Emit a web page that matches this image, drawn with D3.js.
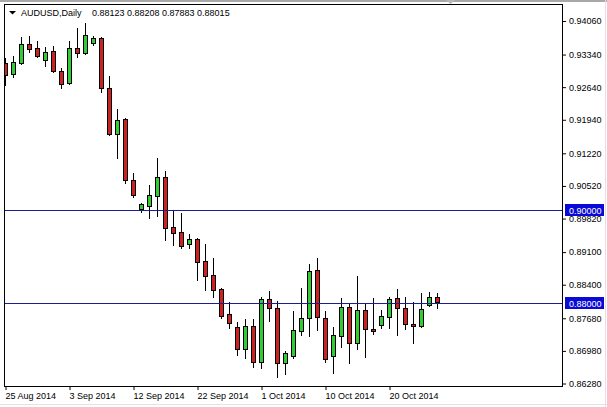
<!DOCTYPE html>
<html>
<head>
<meta charset="utf-8">
<script src="https://cdn.jsdelivr.net/npm/d3@7"></script>
<style>
body { margin: 0; background: #fff; }
svg { display: block; font-family: "Liberation Sans", Arial, sans-serif; font-size: 9px; }
</style>
</head>
<body>
<svg class="candle-chart" width="607" height="407"></svg>
<script>
var symbol = "AUDUSD,Daily";
var lastQuote = "0.88123 0.88208 0.87883 0.88015";

// daily bars (broker also prints sunday bars)
var dates = [
  "2014-08-25","2014-08-26","2014-08-27","2014-08-28","2014-08-29","2014-08-31",
  "2014-09-01","2014-09-02","2014-09-03","2014-09-04","2014-09-05","2014-09-07",
  "2014-09-08","2014-09-09","2014-09-10","2014-09-11","2014-09-12","2014-09-14",
  "2014-09-15","2014-09-16","2014-09-17","2014-09-18","2014-09-19","2014-09-21",
  "2014-09-22","2014-09-23","2014-09-24","2014-09-25","2014-09-26","2014-09-28",
  "2014-09-29","2014-09-30","2014-10-01","2014-10-02","2014-10-03","2014-10-05",
  "2014-10-06","2014-10-07","2014-10-08","2014-10-09","2014-10-10","2014-10-12",
  "2014-10-13","2014-10-14","2014-10-15","2014-10-16","2014-10-17","2014-10-19",
  "2014-10-20","2014-10-21","2014-10-22","2014-10-23","2014-10-24","2014-10-26",
  "2014-10-27"
];
var opens = [
  0.93148,0.92912,0.93148,0.93556,0.93470,0.93212,0.93405,0.92976,0.92719,0.93470,
  0.93363,0.93577,0.93684,0.92611,0.91624,0.91946,0.90637,0.90014,0.90079,0.90293,
  0.90701,0.89628,0.89521,0.89263,0.89371,0.88898,0.88598,0.88298,0.87761,0.87482,
  0.87010,0.87503,0.86731,0.88083,0.87890,0.86709,0.86860,0.87396,0.87675,0.88705,
  0.87675,0.86860,0.87289,0.87911,0.87139,0.87847,0.87439,0.87525,0.87697,0.88104,
  0.87890,0.87546,0.87503,0.87954,0.88123
];
var highs = [
  0.93255,0.93298,0.93706,0.93727,0.93620,0.93491,0.93513,0.93041,0.93620,0.93899,
  0.94006,0.93727,0.93706,0.92869,0.92161,0.91967,0.90787,0.90143,0.90530,0.91109,
  0.90830,0.89972,0.89929,0.89478,0.89392,0.89263,0.88963,0.88319,0.88019,0.87589,
  0.87654,0.87654,0.88126,0.88255,0.88040,0.86967,0.87825,0.88319,0.88834,0.88963,
  0.87825,0.87482,0.88104,0.87997,0.88577,0.87997,0.88104,0.87847,0.88126,0.88298,
  0.88126,0.88019,0.88212,0.88233,0.88208
];
var lows = [
  0.92676,0.92847,0.93126,0.93384,0.93277,0.93084,0.92955,0.92611,0.92697,0.93277,
  0.93341,0.93534,0.92525,0.91603,0.91109,0.90572,0.90272,0.89950,0.89821,0.89864,
  0.89349,0.89242,0.89177,0.89177,0.88491,0.88276,0.88126,0.87675,0.87461,0.86881,
  0.86817,0.86623,0.86602,0.87611,0.86409,0.86473,0.86817,0.87310,0.87289,0.87418,
  0.86731,0.86495,0.87053,0.86709,0.87010,0.86838,0.87332,0.87461,0.87461,0.87310,
  0.87439,0.87139,0.87482,0.87933,0.87883
];
var closes = [
  0.92890,0.93169,0.93556,0.93448,0.93298,0.93384,0.92976,0.92697,0.93470,0.93363,
  0.93749,0.93684,0.92611,0.91624,0.91925,0.90637,0.90315,0.90122,0.90315,0.90701,
  0.89607,0.89499,0.89220,0.89371,0.88877,0.88577,0.88276,0.87718,0.87568,0.87010,
  0.87503,0.86731,0.88083,0.87890,0.86709,0.86924,0.87418,0.87675,0.88684,0.87697,
  0.86795,0.87310,0.87911,0.87139,0.87847,0.87439,0.87396,0.87718,0.88083,0.87890,
  0.87546,0.87503,0.87868,0.88126,0.88015
];

var priceTicks = [0.94060,0.93340,0.92640,0.91940,0.91220,0.90520,0.89820,0.89100,0.88400,0.87680,0.86980,0.86280];
var dateTicks = ["2014-08-25","2014-09-03","2014-09-12","2014-09-22","2014-10-01","2014-10-10","2014-10-20"];
var levels = [0.90000, 0.88000];

var upColor = "#33cc33", downColor = "#cc2222", levelColor = "#1c1c96";

var svg = d3.select(".candle-chart"),
frame = {left: 4, top: 4, right: 562, bottom: 386};

svg.append("rect").attr("width", 607).attr("height", 407).attr("fill", "#fff");
// window chrome bits
svg.append("rect").attr("x", 0).attr("y", 0).attr("width", 607).attr("height", 2).attr("fill", "#a8a8a8");
svg.append("line").attr("x1", 0).attr("x2", 607).attr("y1", 404.5).attr("y2", 404.5).attr("stroke", "#e2e2e2");
svg.append("line").attr("x1", 605.5).attr("x2", 605.5).attr("y1", 0).attr("y2", 407).attr("stroke", "#e2e2e2");
svg.append("path").attr("d", "M446,0L455,0L450.5,4Z").attr("fill", "#b8b8b8");

var x = d3.scalePoint()
.domain(dates)
.range([5, 437]);

var y = d3.scaleLinear()
.domain([0.86280, 0.94060])
.range([383, 20.5]);

var candles = dates.map(function(d, i) {
   return {date: d, open: opens[i], high: highs[i], low: lows[i], close: closes[i]};
});

svg.append("clipPath").attr("id", "plot-clip")
.append("rect")
.attr("x", frame.left + 1).attr("y", frame.top + 1)
.attr("width", frame.right - frame.left - 1).attr("height", frame.bottom - frame.top - 1);

var g = svg.append("g").attr("clip-path", "url(#plot-clip)");

// wicks
g.selectAll(".wick")
.data(candles)
.enter().append("line")
.attr("class", "wick")
.attr("x1", function(d) { return Math.round(x(d.date)) + 0.5; })
.attr("x2", function(d) { return Math.round(x(d.date)) + 0.5; })
.attr("y1", function(d) { return Math.round(y(d.high)); })
.attr("y2", function(d) { return Math.round(y(d.low)) + 1; })
.attr("stroke", "#000");

// bodies
g.selectAll(".body")
.data(candles)
.enter().append("rect")
.attr("class", "body")
.attr("x", function(d) { return Math.round(x(d.date)) - 2 + 0.5; })
.attr("y", function(d) { return Math.round(y(Math.max(d.open, d.close))) + 0.5; })
.attr("width", 4)
.attr("height", function(d) {
   return Math.max(1, Math.round(y(Math.min(d.open, d.close))) - Math.round(y(Math.max(d.open, d.close))));
})
.attr("fill", function(d) { return d.close >= d.open ? upColor : downColor; })
.attr("stroke", "#000");

// horizontal levels
g.selectAll(".level")
.data(levels)
.enter().append("line")
.attr("class", "level")
.attr("x1", frame.left).attr("x2", frame.right)
.attr("y1", function(d) { return Math.round(y(d)) + 0.5; })
.attr("y2", function(d) { return Math.round(y(d)) + 0.5; })
.attr("stroke", levelColor);

// frame
svg.append("rect")
.attr("x", frame.left + 0.5).attr("y", frame.top + 0.5)
.attr("width", frame.right - frame.left).attr("height", frame.bottom - frame.top)
.attr("fill", "none").attr("stroke", "#000");

// price axis
var yAxis = svg.append("g")
.attr("class", "axis axis--y")
.attr("transform", "translate(" + (frame.right + 1) + ",0.5)")
.call(d3.axisRight(y).tickValues(priceTicks).tickFormat(d3.format(".5f")).tickSize(3).tickPadding(3));
yAxis.select(".domain").remove();
yAxis.selectAll("text").attr("font-family", "Liberation Sans, Arial, sans-serif").attr("font-size", 9).attr("fill", "#000");

// date axis
var parseDay = d3.timeParse("%Y-%m-%d"), fmtDay = d3.timeFormat("%-d %b %Y");
var xAxis = svg.append("g")
.attr("class", "axis axis--x")
.attr("transform", "translate(0.5," + (frame.bottom + 1) + ")")
.call(d3.axisBottom(x).tickValues(dateTicks).tickSize(3).tickPadding(3)
   .tickFormat(function(d) { return fmtDay(parseDay(d)); }));
xAxis.select(".domain").remove();
xAxis.selectAll("text").attr("text-anchor", "start").attr("x", -0.5)
.attr("font-family", "Liberation Sans, Arial, sans-serif").attr("font-size", 9).attr("fill", "#000");

// level price tags
var tags = svg.selectAll(".tag")
.data(levels)
.enter().append("g")
.attr("class", "tag")
.attr("transform", function(d) { return "translate(565," + Math.round(y(d)) + ")"; });
tags.append("rect").attr("x", 0).attr("y", -6).attr("width", 39).attr("height", 12).attr("fill", "#0a0ad8");
tags.append("text").attr("x", 4).attr("y", 3.5).attr("fill", "#fff")
.text(function(d) { return d3.format(".5f")(d); });

// header
svg.append("path").attr("d", "M9,11L16,11L12.5,14.5Z").attr("fill", "#000");
svg.append("text").attr("x", 21).attr("y", 16).attr("fill", "#000").text(symbol);
svg.append("text").attr("x", 92).attr("y", 16).attr("fill", "#000").text(lastQuote);
</script>
</body>
</html>
